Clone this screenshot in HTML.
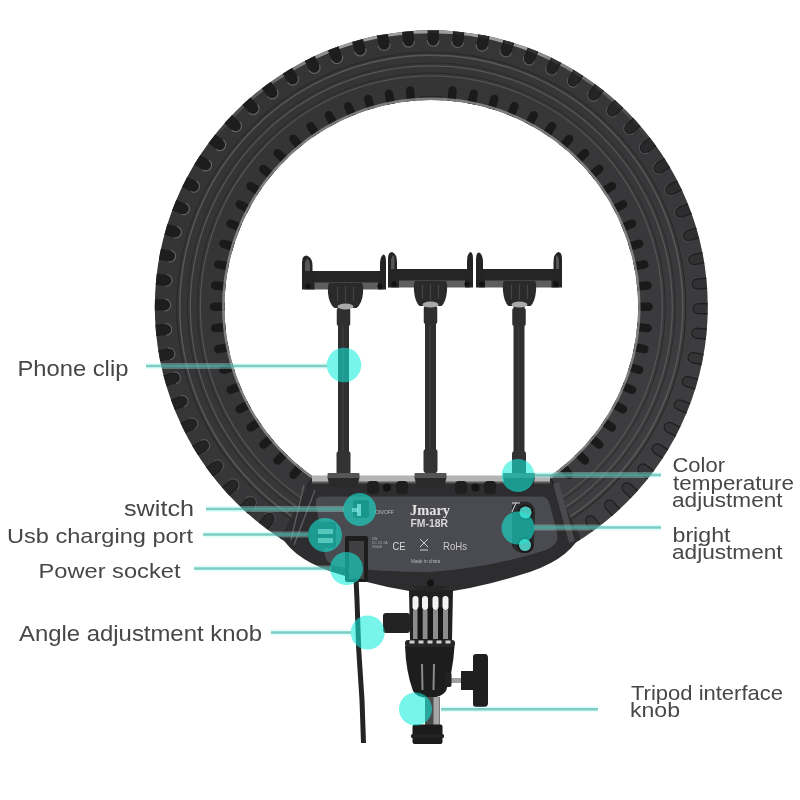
<!DOCTYPE html><html><head><meta charset="utf-8"><style>html,body{margin:0;padding:0;background:#fff;width:800px;height:800px;overflow:hidden}svg{display:block;filter:blur(0.45px)}</style></head><body>
<svg width="800" height="800" viewBox="0 0 800 800" style="font-family:'Liberation Sans',sans-serif">
<defs><clipPath id="ringclip"><path fill-rule="evenodd" clip-rule="evenodd" d="M 154.8,306.8 a 276.5,276.5 0 1,0 553.0,0 a 276.5,276.5 0 1,0 -553.0,0 Z M 224.5,306.8 a 206.8,206.8 0 1,0 413.6,0 a 206.8,206.8 0 1,0 -413.6,0 Z"/></clipPath><linearGradient id="ringg" x1="0" y1="0" x2="1" y2="1"><stop offset="0" stop-color="#333334"/><stop offset="0.6" stop-color="#38383a"/><stop offset="1" stop-color="#424244"/></linearGradient></defs>
<rect width="800" height="800" fill="#fff"/>
<path fill-rule="evenodd" fill="url(#ringg)" d="M 154.8,306.8 a 276.5,276.5 0 1,0 553.0,0 a 276.5,276.5 0 1,0 -553.0,0 Z M 224.5,306.8 a 206.8,206.8 0 1,0 413.6,0 a 206.8,206.8 0 1,0 -413.6,0 Z"/>
<g clip-path="url(#ringclip)">
<circle cx="431.3" cy="306.8" r="254.5" fill="none" stroke="#2a2a2b" stroke-width="1.2"/>
<circle cx="431.3" cy="306.8" r="251.5" fill="none" stroke="#59595a" stroke-width="1.4"/>
<circle cx="431.3" cy="306.8" r="244" fill="none" stroke="#2b2b2c" stroke-width="1.0"/>
<circle cx="431.3" cy="306.8" r="241" fill="none" stroke="#565657" stroke-width="1.3"/>
<circle cx="431.3" cy="306.8" r="234" fill="none" stroke="#2b2b2c" stroke-width="1.0"/>
<circle cx="431.3" cy="306.8" r="231" fill="none" stroke="#535354" stroke-width="1.3"/>
<linearGradient id="rimg" x1="0" y1="0" x2="1" y2="0"><stop offset="0" stop-color="#aaa" stop-opacity="0"/><stop offset="0.3" stop-color="#aaa" stop-opacity="0.9"/><stop offset="0.7" stop-color="#aaa" stop-opacity="0.9"/><stop offset="1" stop-color="#aaa" stop-opacity="0"/></linearGradient>
<path fill="none" stroke="url(#rimg)" stroke-width="3.2" d="M 206.0,149.0 A 275.1,275.1 0 0,1 656.6,149.0"/>
<g transform="translate(431.3,306.8)"><g transform="rotate(0.40)"><path d="M -5,-279.5 L -5,-266.5 A 5,5 0 0,0 5,-266.5 L 5,-279.5 Z" fill="#1d1d1e" fill-opacity="0.95" stroke="#1e1e1f" stroke-width="1.3"/><path d="M -5.9,-266.5 A 5.9,5.9 0 0,0 5.9,-266.5" fill="none" stroke="#666667" stroke-opacity="0.95" stroke-width="1.1"/></g><g transform="rotate(5.69)"><path d="M -5,-279.5 L -5,-266.5 A 5,5 0 0,0 5,-266.5 L 5,-279.5 Z" fill="#1d1d1e" fill-opacity="0.92" stroke="#1e1e1f" stroke-width="1.3"/><path d="M -5.9,-266.5 A 5.9,5.9 0 0,0 5.9,-266.5" fill="none" stroke="#666667" stroke-opacity="0.92" stroke-width="1.1"/></g><g transform="rotate(10.99)"><path d="M -5,-279.5 L -5,-266.5 A 5,5 0 0,0 5,-266.5 L 5,-279.5 Z" fill="#1d1d1e" fill-opacity="0.88" stroke="#1e1e1f" stroke-width="1.3"/><path d="M -5.9,-266.5 A 5.9,5.9 0 0,0 5.9,-266.5" fill="none" stroke="#666667" stroke-opacity="0.88" stroke-width="1.1"/></g><g transform="rotate(16.28)"><path d="M -5,-279.5 L -5,-266.5 A 5,5 0 0,0 5,-266.5 L 5,-279.5 Z" fill="#1d1d1e" fill-opacity="0.84" stroke="#1e1e1f" stroke-width="1.3"/><path d="M -5.9,-266.5 A 5.9,5.9 0 0,0 5.9,-266.5" fill="none" stroke="#666667" stroke-opacity="0.84" stroke-width="1.1"/></g><g transform="rotate(21.58)"><path d="M -5,-279.5 L -5,-266.5 A 5,5 0 0,0 5,-266.5 L 5,-279.5 Z" fill="#1d1d1e" fill-opacity="0.80" stroke="#1e1e1f" stroke-width="1.3"/><path d="M -5.9,-266.5 A 5.9,5.9 0 0,0 5.9,-266.5" fill="none" stroke="#666667" stroke-opacity="0.80" stroke-width="1.1"/></g><g transform="rotate(26.87)"><path d="M -5,-279.5 L -5,-266.5 A 5,5 0 0,0 5,-266.5 L 5,-279.5 Z" fill="#1d1d1e" fill-opacity="0.76" stroke="#1e1e1f" stroke-width="1.3"/><path d="M -5.9,-266.5 A 5.9,5.9 0 0,0 5.9,-266.5" fill="none" stroke="#666667" stroke-opacity="0.76" stroke-width="1.1"/></g><g transform="rotate(32.16)"><path d="M -5,-279.5 L -5,-266.5 A 5,5 0 0,0 5,-266.5 L 5,-279.5 Z" fill="#1d1d1e" fill-opacity="0.71" stroke="#1e1e1f" stroke-width="1.3"/><path d="M -5.9,-266.5 A 5.9,5.9 0 0,0 5.9,-266.5" fill="none" stroke="#666667" stroke-opacity="0.71" stroke-width="1.1"/></g><g transform="rotate(37.46)"><path d="M -5,-279.5 L -5,-266.5 A 5,5 0 0,0 5,-266.5 L 5,-279.5 Z" fill="#1d1d1e" fill-opacity="0.67" stroke="#1e1e1f" stroke-width="1.3"/><path d="M -5.9,-266.5 A 5.9,5.9 0 0,0 5.9,-266.5" fill="none" stroke="#666667" stroke-opacity="0.67" stroke-width="1.1"/></g><g transform="rotate(42.75)"><path d="M -5,-279.5 L -5,-266.5 A 5,5 0 0,0 5,-266.5 L 5,-279.5 Z" fill="#1d1d1e" fill-opacity="0.62" stroke="#1e1e1f" stroke-width="1.3"/><path d="M -5.9,-266.5 A 5.9,5.9 0 0,0 5.9,-266.5" fill="none" stroke="#666667" stroke-opacity="0.62" stroke-width="1.1"/></g><g transform="rotate(48.05)"><path d="M -5,-279.5 L -5,-266.5 A 5,5 0 0,0 5,-266.5 L 5,-279.5 Z" fill="#1d1d1e" fill-opacity="0.57" stroke="#1e1e1f" stroke-width="1.3"/><path d="M -5.9,-266.5 A 5.9,5.9 0 0,0 5.9,-266.5" fill="none" stroke="#666667" stroke-opacity="0.57" stroke-width="1.1"/></g><g transform="rotate(53.34)"><path d="M -5,-279.5 L -5,-266.5 A 5,5 0 0,0 5,-266.5 L 5,-279.5 Z" fill="#1d1d1e" fill-opacity="0.53" stroke="#1e1e1f" stroke-width="1.3"/><path d="M -5.9,-266.5 A 5.9,5.9 0 0,0 5.9,-266.5" fill="none" stroke="#666667" stroke-opacity="0.53" stroke-width="1.1"/></g><g transform="rotate(58.64)"><path d="M -5,-279.5 L -5,-266.5 A 5,5 0 0,0 5,-266.5 L 5,-279.5 Z" fill="#1d1d1e" fill-opacity="0.48" stroke="#1e1e1f" stroke-width="1.3"/><path d="M -5.9,-266.5 A 5.9,5.9 0 0,0 5.9,-266.5" fill="none" stroke="#666667" stroke-opacity="0.48" stroke-width="1.1"/></g><g transform="rotate(63.93)"><path d="M -5,-279.5 L -5,-266.5 A 5,5 0 0,0 5,-266.5 L 5,-279.5 Z" fill="#1d1d1e" fill-opacity="0.44" stroke="#1e1e1f" stroke-width="1.3"/><path d="M -5.9,-266.5 A 5.9,5.9 0 0,0 5.9,-266.5" fill="none" stroke="#666667" stroke-opacity="0.44" stroke-width="1.1"/></g><g transform="rotate(69.22)"><path d="M -5,-279.5 L -5,-266.5 A 5,5 0 0,0 5,-266.5 L 5,-279.5 Z" fill="#1d1d1e" fill-opacity="0.39" stroke="#1e1e1f" stroke-width="1.3"/><path d="M -5.9,-266.5 A 5.9,5.9 0 0,0 5.9,-266.5" fill="none" stroke="#666667" stroke-opacity="0.39" stroke-width="1.1"/></g><g transform="rotate(74.52)"><path d="M -5,-279.5 L -5,-266.5 A 5,5 0 0,0 5,-266.5 L 5,-279.5 Z" fill="#1d1d1e" fill-opacity="0.35" stroke="#1e1e1f" stroke-width="1.3"/><path d="M -5.9,-266.5 A 5.9,5.9 0 0,0 5.9,-266.5" fill="none" stroke="#666667" stroke-opacity="0.35" stroke-width="1.1"/></g><g transform="rotate(79.81)"><path d="M -5,-279.5 L -5,-266.5 A 5,5 0 0,0 5,-266.5 L 5,-279.5 Z" fill="#1d1d1e" fill-opacity="0.31" stroke="#1e1e1f" stroke-width="1.3"/><path d="M -5.9,-266.5 A 5.9,5.9 0 0,0 5.9,-266.5" fill="none" stroke="#666667" stroke-opacity="0.31" stroke-width="1.1"/></g><g transform="rotate(85.11)"><path d="M -5,-279.5 L -5,-266.5 A 5,5 0 0,0 5,-266.5 L 5,-279.5 Z" fill="#1d1d1e" fill-opacity="0.28" stroke="#1e1e1f" stroke-width="1.3"/><path d="M -5.9,-266.5 A 5.9,5.9 0 0,0 5.9,-266.5" fill="none" stroke="#666667" stroke-opacity="0.28" stroke-width="1.1"/></g><g transform="rotate(90.40)"><path d="M -5,-279.5 L -5,-266.5 A 5,5 0 0,0 5,-266.5 L 5,-279.5 Z" fill="#1d1d1e" fill-opacity="0.25" stroke="#1e1e1f" stroke-width="1.3"/><path d="M -5.9,-266.5 A 5.9,5.9 0 0,0 5.9,-266.5" fill="none" stroke="#666667" stroke-opacity="0.24" stroke-width="1.1"/></g><g transform="rotate(95.69)"><path d="M -5,-279.5 L -5,-266.5 A 5,5 0 0,0 5,-266.5 L 5,-279.5 Z" fill="#1d1d1e" fill-opacity="0.25" stroke="#1e1e1f" stroke-width="1.3"/><path d="M -5.9,-266.5 A 5.9,5.9 0 0,0 5.9,-266.5" fill="none" stroke="#666667" stroke-opacity="0.21" stroke-width="1.1"/></g><g transform="rotate(100.99)"><path d="M -5,-279.5 L -5,-266.5 A 5,5 0 0,0 5,-266.5 L 5,-279.5 Z" fill="#1d1d1e" fill-opacity="0.25" stroke="#1e1e1f" stroke-width="1.3"/><path d="M -5.9,-266.5 A 5.9,5.9 0 0,0 5.9,-266.5" fill="none" stroke="#666667" stroke-opacity="0.19" stroke-width="1.1"/></g><g transform="rotate(106.28)"><path d="M -5,-279.5 L -5,-266.5 A 5,5 0 0,0 5,-266.5 L 5,-279.5 Z" fill="#1d1d1e" fill-opacity="0.25" stroke="#1e1e1f" stroke-width="1.3"/><path d="M -5.9,-266.5 A 5.9,5.9 0 0,0 5.9,-266.5" fill="none" stroke="#666667" stroke-opacity="0.16" stroke-width="1.1"/></g><g transform="rotate(111.58)"><path d="M -5,-279.5 L -5,-266.5 A 5,5 0 0,0 5,-266.5 L 5,-279.5 Z" fill="#1d1d1e" fill-opacity="0.25" stroke="#1e1e1f" stroke-width="1.3"/><path d="M -5.9,-266.5 A 5.9,5.9 0 0,0 5.9,-266.5" fill="none" stroke="#666667" stroke-opacity="0.15" stroke-width="1.1"/></g><g transform="rotate(116.87)"><path d="M -5,-279.5 L -5,-266.5 A 5,5 0 0,0 5,-266.5 L 5,-279.5 Z" fill="#1d1d1e" fill-opacity="0.25" stroke="#1e1e1f" stroke-width="1.3"/><path d="M -5.9,-266.5 A 5.9,5.9 0 0,0 5.9,-266.5" fill="none" stroke="#666667" stroke-opacity="0.15" stroke-width="1.1"/></g><g transform="rotate(122.16)"><path d="M -5,-279.5 L -5,-266.5 A 5,5 0 0,0 5,-266.5 L 5,-279.5 Z" fill="#1d1d1e" fill-opacity="0.25" stroke="#1e1e1f" stroke-width="1.3"/><path d="M -5.9,-266.5 A 5.9,5.9 0 0,0 5.9,-266.5" fill="none" stroke="#666667" stroke-opacity="0.15" stroke-width="1.1"/></g><g transform="rotate(127.46)"><path d="M -5,-279.5 L -5,-266.5 A 5,5 0 0,0 5,-266.5 L 5,-279.5 Z" fill="#1d1d1e" fill-opacity="0.25" stroke="#1e1e1f" stroke-width="1.3"/><path d="M -5.9,-266.5 A 5.9,5.9 0 0,0 5.9,-266.5" fill="none" stroke="#666667" stroke-opacity="0.15" stroke-width="1.1"/></g><g transform="rotate(132.75)"><path d="M -5,-279.5 L -5,-266.5 A 5,5 0 0,0 5,-266.5 L 5,-279.5 Z" fill="#1d1d1e" fill-opacity="0.25" stroke="#1e1e1f" stroke-width="1.3"/><path d="M -5.9,-266.5 A 5.9,5.9 0 0,0 5.9,-266.5" fill="none" stroke="#666667" stroke-opacity="0.15" stroke-width="1.1"/></g><g transform="rotate(138.05)"><path d="M -5,-279.5 L -5,-266.5 A 5,5 0 0,0 5,-266.5 L 5,-279.5 Z" fill="#1d1d1e" fill-opacity="0.25" stroke="#1e1e1f" stroke-width="1.3"/><path d="M -5.9,-266.5 A 5.9,5.9 0 0,0 5.9,-266.5" fill="none" stroke="#666667" stroke-opacity="0.15" stroke-width="1.1"/></g><g transform="rotate(143.34)"><path d="M -5,-279.5 L -5,-266.5 A 5,5 0 0,0 5,-266.5 L 5,-279.5 Z" fill="#1d1d1e" fill-opacity="0.25" stroke="#1e1e1f" stroke-width="1.3"/><path d="M -5.9,-266.5 A 5.9,5.9 0 0,0 5.9,-266.5" fill="none" stroke="#666667" stroke-opacity="0.15" stroke-width="1.1"/></g><g transform="rotate(148.64)"><path d="M -5,-279.5 L -5,-266.5 A 5,5 0 0,0 5,-266.5 L 5,-279.5 Z" fill="#1d1d1e" fill-opacity="0.25" stroke="#1e1e1f" stroke-width="1.3"/><path d="M -5.9,-266.5 A 5.9,5.9 0 0,0 5.9,-266.5" fill="none" stroke="#666667" stroke-opacity="0.15" stroke-width="1.1"/></g><g transform="rotate(153.93)"><path d="M -5,-279.5 L -5,-266.5 A 5,5 0 0,0 5,-266.5 L 5,-279.5 Z" fill="#1d1d1e" fill-opacity="0.25" stroke="#1e1e1f" stroke-width="1.3"/><path d="M -5.9,-266.5 A 5.9,5.9 0 0,0 5.9,-266.5" fill="none" stroke="#666667" stroke-opacity="0.15" stroke-width="1.1"/></g><g transform="rotate(159.22)"><path d="M -5,-279.5 L -5,-266.5 A 5,5 0 0,0 5,-266.5 L 5,-279.5 Z" fill="#1d1d1e" fill-opacity="0.25" stroke="#1e1e1f" stroke-width="1.3"/><path d="M -5.9,-266.5 A 5.9,5.9 0 0,0 5.9,-266.5" fill="none" stroke="#666667" stroke-opacity="0.15" stroke-width="1.1"/></g><g transform="rotate(164.52)"><path d="M -5,-279.5 L -5,-266.5 A 5,5 0 0,0 5,-266.5 L 5,-279.5 Z" fill="#1d1d1e" fill-opacity="0.25" stroke="#1e1e1f" stroke-width="1.3"/><path d="M -5.9,-266.5 A 5.9,5.9 0 0,0 5.9,-266.5" fill="none" stroke="#666667" stroke-opacity="0.16" stroke-width="1.1"/></g><g transform="rotate(169.81)"><path d="M -5,-279.5 L -5,-266.5 A 5,5 0 0,0 5,-266.5 L 5,-279.5 Z" fill="#1d1d1e" fill-opacity="0.25" stroke="#1e1e1f" stroke-width="1.3"/><path d="M -5.9,-266.5 A 5.9,5.9 0 0,0 5.9,-266.5" fill="none" stroke="#666667" stroke-opacity="0.19" stroke-width="1.1"/></g><g transform="rotate(175.11)"><path d="M -5,-279.5 L -5,-266.5 A 5,5 0 0,0 5,-266.5 L 5,-279.5 Z" fill="#1d1d1e" fill-opacity="0.25" stroke="#1e1e1f" stroke-width="1.3"/><path d="M -5.9,-266.5 A 5.9,5.9 0 0,0 5.9,-266.5" fill="none" stroke="#666667" stroke-opacity="0.22" stroke-width="1.1"/></g><g transform="rotate(180.40)"><path d="M -5,-279.5 L -5,-266.5 A 5,5 0 0,0 5,-266.5 L 5,-279.5 Z" fill="#1d1d1e" fill-opacity="0.25" stroke="#1e1e1f" stroke-width="1.3"/><path d="M -5.9,-266.5 A 5.9,5.9 0 0,0 5.9,-266.5" fill="none" stroke="#666667" stroke-opacity="0.25" stroke-width="1.1"/></g><g transform="rotate(185.69)"><path d="M -5,-279.5 L -5,-266.5 A 5,5 0 0,0 5,-266.5 L 5,-279.5 Z" fill="#1d1d1e" fill-opacity="0.28" stroke="#1e1e1f" stroke-width="1.3"/><path d="M -5.9,-266.5 A 5.9,5.9 0 0,0 5.9,-266.5" fill="none" stroke="#666667" stroke-opacity="0.28" stroke-width="1.1"/></g><g transform="rotate(190.99)"><path d="M -5,-279.5 L -5,-266.5 A 5,5 0 0,0 5,-266.5 L 5,-279.5 Z" fill="#1d1d1e" fill-opacity="0.32" stroke="#1e1e1f" stroke-width="1.3"/><path d="M -5.9,-266.5 A 5.9,5.9 0 0,0 5.9,-266.5" fill="none" stroke="#666667" stroke-opacity="0.32" stroke-width="1.1"/></g><g transform="rotate(196.28)"><path d="M -5,-279.5 L -5,-266.5 A 5,5 0 0,0 5,-266.5 L 5,-279.5 Z" fill="#1d1d1e" fill-opacity="0.36" stroke="#1e1e1f" stroke-width="1.3"/><path d="M -5.9,-266.5 A 5.9,5.9 0 0,0 5.9,-266.5" fill="none" stroke="#666667" stroke-opacity="0.36" stroke-width="1.1"/></g><g transform="rotate(201.58)"><path d="M -5,-279.5 L -5,-266.5 A 5,5 0 0,0 5,-266.5 L 5,-279.5 Z" fill="#1d1d1e" fill-opacity="0.40" stroke="#1e1e1f" stroke-width="1.3"/><path d="M -5.9,-266.5 A 5.9,5.9 0 0,0 5.9,-266.5" fill="none" stroke="#666667" stroke-opacity="0.40" stroke-width="1.1"/></g><g transform="rotate(206.87)"><path d="M -5,-279.5 L -5,-266.5 A 5,5 0 0,0 5,-266.5 L 5,-279.5 Z" fill="#1d1d1e" fill-opacity="0.44" stroke="#1e1e1f" stroke-width="1.3"/><path d="M -5.9,-266.5 A 5.9,5.9 0 0,0 5.9,-266.5" fill="none" stroke="#666667" stroke-opacity="0.44" stroke-width="1.1"/></g><g transform="rotate(212.16)"><path d="M -5,-279.5 L -5,-266.5 A 5,5 0 0,0 5,-266.5 L 5,-279.5 Z" fill="#1d1d1e" fill-opacity="0.49" stroke="#1e1e1f" stroke-width="1.3"/><path d="M -5.9,-266.5 A 5.9,5.9 0 0,0 5.9,-266.5" fill="none" stroke="#666667" stroke-opacity="0.49" stroke-width="1.1"/></g><g transform="rotate(217.46)"><path d="M -5,-279.5 L -5,-266.5 A 5,5 0 0,0 5,-266.5 L 5,-279.5 Z" fill="#1d1d1e" fill-opacity="0.53" stroke="#1e1e1f" stroke-width="1.3"/><path d="M -5.9,-266.5 A 5.9,5.9 0 0,0 5.9,-266.5" fill="none" stroke="#666667" stroke-opacity="0.53" stroke-width="1.1"/></g><g transform="rotate(222.75)"><path d="M -5,-279.5 L -5,-266.5 A 5,5 0 0,0 5,-266.5 L 5,-279.5 Z" fill="#1d1d1e" fill-opacity="0.58" stroke="#1e1e1f" stroke-width="1.3"/><path d="M -5.9,-266.5 A 5.9,5.9 0 0,0 5.9,-266.5" fill="none" stroke="#666667" stroke-opacity="0.58" stroke-width="1.1"/></g><g transform="rotate(228.05)"><path d="M -5,-279.5 L -5,-266.5 A 5,5 0 0,0 5,-266.5 L 5,-279.5 Z" fill="#1d1d1e" fill-opacity="0.63" stroke="#1e1e1f" stroke-width="1.3"/><path d="M -5.9,-266.5 A 5.9,5.9 0 0,0 5.9,-266.5" fill="none" stroke="#666667" stroke-opacity="0.63" stroke-width="1.1"/></g><g transform="rotate(233.34)"><path d="M -5,-279.5 L -5,-266.5 A 5,5 0 0,0 5,-266.5 L 5,-279.5 Z" fill="#1d1d1e" fill-opacity="0.67" stroke="#1e1e1f" stroke-width="1.3"/><path d="M -5.9,-266.5 A 5.9,5.9 0 0,0 5.9,-266.5" fill="none" stroke="#666667" stroke-opacity="0.67" stroke-width="1.1"/></g><g transform="rotate(238.64)"><path d="M -5,-279.5 L -5,-266.5 A 5,5 0 0,0 5,-266.5 L 5,-279.5 Z" fill="#1d1d1e" fill-opacity="0.72" stroke="#1e1e1f" stroke-width="1.3"/><path d="M -5.9,-266.5 A 5.9,5.9 0 0,0 5.9,-266.5" fill="none" stroke="#666667" stroke-opacity="0.72" stroke-width="1.1"/></g><g transform="rotate(243.93)"><path d="M -5,-279.5 L -5,-266.5 A 5,5 0 0,0 5,-266.5 L 5,-279.5 Z" fill="#1d1d1e" fill-opacity="0.76" stroke="#1e1e1f" stroke-width="1.3"/><path d="M -5.9,-266.5 A 5.9,5.9 0 0,0 5.9,-266.5" fill="none" stroke="#666667" stroke-opacity="0.76" stroke-width="1.1"/></g><g transform="rotate(249.22)"><path d="M -5,-279.5 L -5,-266.5 A 5,5 0 0,0 5,-266.5 L 5,-279.5 Z" fill="#1d1d1e" fill-opacity="0.81" stroke="#1e1e1f" stroke-width="1.3"/><path d="M -5.9,-266.5 A 5.9,5.9 0 0,0 5.9,-266.5" fill="none" stroke="#666667" stroke-opacity="0.81" stroke-width="1.1"/></g><g transform="rotate(254.52)"><path d="M -5,-279.5 L -5,-266.5 A 5,5 0 0,0 5,-266.5 L 5,-279.5 Z" fill="#1d1d1e" fill-opacity="0.85" stroke="#1e1e1f" stroke-width="1.3"/><path d="M -5.9,-266.5 A 5.9,5.9 0 0,0 5.9,-266.5" fill="none" stroke="#666667" stroke-opacity="0.85" stroke-width="1.1"/></g><g transform="rotate(259.81)"><path d="M -5,-279.5 L -5,-266.5 A 5,5 0 0,0 5,-266.5 L 5,-279.5 Z" fill="#1d1d1e" fill-opacity="0.89" stroke="#1e1e1f" stroke-width="1.3"/><path d="M -5.9,-266.5 A 5.9,5.9 0 0,0 5.9,-266.5" fill="none" stroke="#666667" stroke-opacity="0.89" stroke-width="1.1"/></g><g transform="rotate(265.11)"><path d="M -5,-279.5 L -5,-266.5 A 5,5 0 0,0 5,-266.5 L 5,-279.5 Z" fill="#1d1d1e" fill-opacity="0.92" stroke="#1e1e1f" stroke-width="1.3"/><path d="M -5.9,-266.5 A 5.9,5.9 0 0,0 5.9,-266.5" fill="none" stroke="#666667" stroke-opacity="0.92" stroke-width="1.1"/></g><g transform="rotate(270.40)"><path d="M -5,-279.5 L -5,-266.5 A 5,5 0 0,0 5,-266.5 L 5,-279.5 Z" fill="#1d1d1e" fill-opacity="0.96" stroke="#1e1e1f" stroke-width="1.3"/><path d="M -5.9,-266.5 A 5.9,5.9 0 0,0 5.9,-266.5" fill="none" stroke="#666667" stroke-opacity="0.96" stroke-width="1.1"/></g><g transform="rotate(275.69)"><path d="M -5,-279.5 L -5,-266.5 A 5,5 0 0,0 5,-266.5 L 5,-279.5 Z" fill="#1d1d1e" fill-opacity="0.99" stroke="#1e1e1f" stroke-width="1.3"/><path d="M -5.9,-266.5 A 5.9,5.9 0 0,0 5.9,-266.5" fill="none" stroke="#666667" stroke-opacity="0.99" stroke-width="1.1"/></g><g transform="rotate(280.99)"><path d="M -5,-279.5 L -5,-266.5 A 5,5 0 0,0 5,-266.5 L 5,-279.5 Z" fill="#1d1d1e" fill-opacity="1.00" stroke="#1e1e1f" stroke-width="1.3"/><path d="M -5.9,-266.5 A 5.9,5.9 0 0,0 5.9,-266.5" fill="none" stroke="#666667" stroke-opacity="1.00" stroke-width="1.1"/></g><g transform="rotate(286.28)"><path d="M -5,-279.5 L -5,-266.5 A 5,5 0 0,0 5,-266.5 L 5,-279.5 Z" fill="#1d1d1e" fill-opacity="1.00" stroke="#1e1e1f" stroke-width="1.3"/><path d="M -5.9,-266.5 A 5.9,5.9 0 0,0 5.9,-266.5" fill="none" stroke="#666667" stroke-opacity="1.00" stroke-width="1.1"/></g><g transform="rotate(291.58)"><path d="M -5,-279.5 L -5,-266.5 A 5,5 0 0,0 5,-266.5 L 5,-279.5 Z" fill="#1d1d1e" fill-opacity="1.00" stroke="#1e1e1f" stroke-width="1.3"/><path d="M -5.9,-266.5 A 5.9,5.9 0 0,0 5.9,-266.5" fill="none" stroke="#666667" stroke-opacity="1.00" stroke-width="1.1"/></g><g transform="rotate(296.87)"><path d="M -5,-279.5 L -5,-266.5 A 5,5 0 0,0 5,-266.5 L 5,-279.5 Z" fill="#1d1d1e" fill-opacity="1.00" stroke="#1e1e1f" stroke-width="1.3"/><path d="M -5.9,-266.5 A 5.9,5.9 0 0,0 5.9,-266.5" fill="none" stroke="#666667" stroke-opacity="1.00" stroke-width="1.1"/></g><g transform="rotate(302.16)"><path d="M -5,-279.5 L -5,-266.5 A 5,5 0 0,0 5,-266.5 L 5,-279.5 Z" fill="#1d1d1e" fill-opacity="1.00" stroke="#1e1e1f" stroke-width="1.3"/><path d="M -5.9,-266.5 A 5.9,5.9 0 0,0 5.9,-266.5" fill="none" stroke="#666667" stroke-opacity="1.00" stroke-width="1.1"/></g><g transform="rotate(307.46)"><path d="M -5,-279.5 L -5,-266.5 A 5,5 0 0,0 5,-266.5 L 5,-279.5 Z" fill="#1d1d1e" fill-opacity="1.00" stroke="#1e1e1f" stroke-width="1.3"/><path d="M -5.9,-266.5 A 5.9,5.9 0 0,0 5.9,-266.5" fill="none" stroke="#666667" stroke-opacity="1.00" stroke-width="1.1"/></g><g transform="rotate(312.75)"><path d="M -5,-279.5 L -5,-266.5 A 5,5 0 0,0 5,-266.5 L 5,-279.5 Z" fill="#1d1d1e" fill-opacity="1.00" stroke="#1e1e1f" stroke-width="1.3"/><path d="M -5.9,-266.5 A 5.9,5.9 0 0,0 5.9,-266.5" fill="none" stroke="#666667" stroke-opacity="1.00" stroke-width="1.1"/></g><g transform="rotate(318.05)"><path d="M -5,-279.5 L -5,-266.5 A 5,5 0 0,0 5,-266.5 L 5,-279.5 Z" fill="#1d1d1e" fill-opacity="1.00" stroke="#1e1e1f" stroke-width="1.3"/><path d="M -5.9,-266.5 A 5.9,5.9 0 0,0 5.9,-266.5" fill="none" stroke="#666667" stroke-opacity="1.00" stroke-width="1.1"/></g><g transform="rotate(323.34)"><path d="M -5,-279.5 L -5,-266.5 A 5,5 0 0,0 5,-266.5 L 5,-279.5 Z" fill="#1d1d1e" fill-opacity="1.00" stroke="#1e1e1f" stroke-width="1.3"/><path d="M -5.9,-266.5 A 5.9,5.9 0 0,0 5.9,-266.5" fill="none" stroke="#666667" stroke-opacity="1.00" stroke-width="1.1"/></g><g transform="rotate(328.64)"><path d="M -5,-279.5 L -5,-266.5 A 5,5 0 0,0 5,-266.5 L 5,-279.5 Z" fill="#1d1d1e" fill-opacity="1.00" stroke="#1e1e1f" stroke-width="1.3"/><path d="M -5.9,-266.5 A 5.9,5.9 0 0,0 5.9,-266.5" fill="none" stroke="#666667" stroke-opacity="1.00" stroke-width="1.1"/></g><g transform="rotate(333.93)"><path d="M -5,-279.5 L -5,-266.5 A 5,5 0 0,0 5,-266.5 L 5,-279.5 Z" fill="#1d1d1e" fill-opacity="1.00" stroke="#1e1e1f" stroke-width="1.3"/><path d="M -5.9,-266.5 A 5.9,5.9 0 0,0 5.9,-266.5" fill="none" stroke="#666667" stroke-opacity="1.00" stroke-width="1.1"/></g><g transform="rotate(339.22)"><path d="M -5,-279.5 L -5,-266.5 A 5,5 0 0,0 5,-266.5 L 5,-279.5 Z" fill="#1d1d1e" fill-opacity="1.00" stroke="#1e1e1f" stroke-width="1.3"/><path d="M -5.9,-266.5 A 5.9,5.9 0 0,0 5.9,-266.5" fill="none" stroke="#666667" stroke-opacity="1.00" stroke-width="1.1"/></g><g transform="rotate(344.52)"><path d="M -5,-279.5 L -5,-266.5 A 5,5 0 0,0 5,-266.5 L 5,-279.5 Z" fill="#1d1d1e" fill-opacity="1.00" stroke="#1e1e1f" stroke-width="1.3"/><path d="M -5.9,-266.5 A 5.9,5.9 0 0,0 5.9,-266.5" fill="none" stroke="#666667" stroke-opacity="1.00" stroke-width="1.1"/></g><g transform="rotate(349.81)"><path d="M -5,-279.5 L -5,-266.5 A 5,5 0 0,0 5,-266.5 L 5,-279.5 Z" fill="#1d1d1e" fill-opacity="1.00" stroke="#1e1e1f" stroke-width="1.3"/><path d="M -5.9,-266.5 A 5.9,5.9 0 0,0 5.9,-266.5" fill="none" stroke="#666667" stroke-opacity="1.00" stroke-width="1.1"/></g><g transform="rotate(355.11)"><path d="M -5,-279.5 L -5,-266.5 A 5,5 0 0,0 5,-266.5 L 5,-279.5 Z" fill="#1d1d1e" fill-opacity="0.98" stroke="#1e1e1f" stroke-width="1.3"/><path d="M -5.9,-266.5 A 5.9,5.9 0 0,0 5.9,-266.5" fill="none" stroke="#666667" stroke-opacity="0.98" stroke-width="1.1"/></g></g>
<g transform="translate(431.3,306.8)"><path transform="rotate(5.62)" d="M -4.2,-203.8 L -4.2,-217.3 A 4.2,4.2 0 0,1 4.2,-217.3 L 4.2,-203.8 Z" fill="#1a1a1b" /><path transform="rotate(11.25)" d="M -4.2,-203.8 L -4.2,-217.3 A 4.2,4.2 0 0,1 4.2,-217.3 L 4.2,-203.8 Z" fill="#1a1a1b" /><path transform="rotate(16.88)" d="M -4.2,-203.8 L -4.2,-217.3 A 4.2,4.2 0 0,1 4.2,-217.3 L 4.2,-203.8 Z" fill="#1a1a1b" /><path transform="rotate(22.50)" d="M -4.2,-203.8 L -4.2,-217.3 A 4.2,4.2 0 0,1 4.2,-217.3 L 4.2,-203.8 Z" fill="#1a1a1b" /><path transform="rotate(28.12)" d="M -4.2,-203.8 L -4.2,-217.3 A 4.2,4.2 0 0,1 4.2,-217.3 L 4.2,-203.8 Z" fill="#1a1a1b" /><path transform="rotate(33.75)" d="M -4.2,-203.8 L -4.2,-217.3 A 4.2,4.2 0 0,1 4.2,-217.3 L 4.2,-203.8 Z" fill="#1a1a1b" /><path transform="rotate(39.38)" d="M -4.2,-203.8 L -4.2,-217.3 A 4.2,4.2 0 0,1 4.2,-217.3 L 4.2,-203.8 Z" fill="#1a1a1b" /><path transform="rotate(45.00)" d="M -4.2,-203.8 L -4.2,-217.3 A 4.2,4.2 0 0,1 4.2,-217.3 L 4.2,-203.8 Z" fill="#1a1a1b" /><path transform="rotate(50.62)" d="M -4.2,-203.8 L -4.2,-217.3 A 4.2,4.2 0 0,1 4.2,-217.3 L 4.2,-203.8 Z" fill="#1a1a1b" /><path transform="rotate(56.25)" d="M -4.2,-203.8 L -4.2,-217.3 A 4.2,4.2 0 0,1 4.2,-217.3 L 4.2,-203.8 Z" fill="#1a1a1b" /><path transform="rotate(61.88)" d="M -4.2,-203.8 L -4.2,-217.3 A 4.2,4.2 0 0,1 4.2,-217.3 L 4.2,-203.8 Z" fill="#1a1a1b" /><path transform="rotate(67.50)" d="M -4.2,-203.8 L -4.2,-217.3 A 4.2,4.2 0 0,1 4.2,-217.3 L 4.2,-203.8 Z" fill="#1a1a1b" /><path transform="rotate(73.12)" d="M -4.2,-203.8 L -4.2,-217.3 A 4.2,4.2 0 0,1 4.2,-217.3 L 4.2,-203.8 Z" fill="#1a1a1b" /><path transform="rotate(78.75)" d="M -4.2,-203.8 L -4.2,-217.3 A 4.2,4.2 0 0,1 4.2,-217.3 L 4.2,-203.8 Z" fill="#1a1a1b" /><path transform="rotate(84.38)" d="M -4.2,-203.8 L -4.2,-217.3 A 4.2,4.2 0 0,1 4.2,-217.3 L 4.2,-203.8 Z" fill="#1a1a1b" /><path transform="rotate(90.00)" d="M -4.2,-203.8 L -4.2,-217.3 A 4.2,4.2 0 0,1 4.2,-217.3 L 4.2,-203.8 Z" fill="#1a1a1b" /><path transform="rotate(95.62)" d="M -4.2,-203.8 L -4.2,-217.3 A 4.2,4.2 0 0,1 4.2,-217.3 L 4.2,-203.8 Z" fill="#1a1a1b" /><path transform="rotate(101.25)" d="M -4.2,-203.8 L -4.2,-217.3 A 4.2,4.2 0 0,1 4.2,-217.3 L 4.2,-203.8 Z" fill="#1a1a1b" /><path transform="rotate(106.88)" d="M -4.2,-203.8 L -4.2,-217.3 A 4.2,4.2 0 0,1 4.2,-217.3 L 4.2,-203.8 Z" fill="#1a1a1b" /><path transform="rotate(112.50)" d="M -4.2,-203.8 L -4.2,-217.3 A 4.2,4.2 0 0,1 4.2,-217.3 L 4.2,-203.8 Z" fill="#1a1a1b" /><path transform="rotate(118.12)" d="M -4.2,-203.8 L -4.2,-217.3 A 4.2,4.2 0 0,1 4.2,-217.3 L 4.2,-203.8 Z" fill="#1a1a1b" /><path transform="rotate(123.75)" d="M -4.2,-203.8 L -4.2,-217.3 A 4.2,4.2 0 0,1 4.2,-217.3 L 4.2,-203.8 Z" fill="#1a1a1b" /><path transform="rotate(129.38)" d="M -4.2,-203.8 L -4.2,-217.3 A 4.2,4.2 0 0,1 4.2,-217.3 L 4.2,-203.8 Z" fill="#1a1a1b" /><path transform="rotate(135.00)" d="M -4.2,-203.8 L -4.2,-217.3 A 4.2,4.2 0 0,1 4.2,-217.3 L 4.2,-203.8 Z" fill="#1a1a1b" /><path transform="rotate(140.62)" d="M -4.2,-203.8 L -4.2,-217.3 A 4.2,4.2 0 0,1 4.2,-217.3 L 4.2,-203.8 Z" fill="#1a1a1b" /><path transform="rotate(146.25)" d="M -4.2,-203.8 L -4.2,-217.3 A 4.2,4.2 0 0,1 4.2,-217.3 L 4.2,-203.8 Z" fill="#1a1a1b" /><path transform="rotate(151.88)" d="M -4.2,-203.8 L -4.2,-217.3 A 4.2,4.2 0 0,1 4.2,-217.3 L 4.2,-203.8 Z" fill="#1a1a1b" /><path transform="rotate(157.50)" d="M -4.2,-203.8 L -4.2,-217.3 A 4.2,4.2 0 0,1 4.2,-217.3 L 4.2,-203.8 Z" fill="#1a1a1b" /><path transform="rotate(163.12)" d="M -4.2,-203.8 L -4.2,-217.3 A 4.2,4.2 0 0,1 4.2,-217.3 L 4.2,-203.8 Z" fill="#1a1a1b" /><path transform="rotate(168.75)" d="M -4.2,-203.8 L -4.2,-217.3 A 4.2,4.2 0 0,1 4.2,-217.3 L 4.2,-203.8 Z" fill="#1a1a1b" /><path transform="rotate(174.38)" d="M -4.2,-203.8 L -4.2,-217.3 A 4.2,4.2 0 0,1 4.2,-217.3 L 4.2,-203.8 Z" fill="#1a1a1b" /><path transform="rotate(180.00)" d="M -4.2,-203.8 L -4.2,-217.3 A 4.2,4.2 0 0,1 4.2,-217.3 L 4.2,-203.8 Z" fill="#1a1a1b" /><path transform="rotate(185.62)" d="M -4.2,-203.8 L -4.2,-217.3 A 4.2,4.2 0 0,1 4.2,-217.3 L 4.2,-203.8 Z" fill="#1a1a1b" /><path transform="rotate(191.25)" d="M -4.2,-203.8 L -4.2,-217.3 A 4.2,4.2 0 0,1 4.2,-217.3 L 4.2,-203.8 Z" fill="#1a1a1b" /><path transform="rotate(196.88)" d="M -4.2,-203.8 L -4.2,-217.3 A 4.2,4.2 0 0,1 4.2,-217.3 L 4.2,-203.8 Z" fill="#1a1a1b" /><path transform="rotate(202.50)" d="M -4.2,-203.8 L -4.2,-217.3 A 4.2,4.2 0 0,1 4.2,-217.3 L 4.2,-203.8 Z" fill="#1a1a1b" /><path transform="rotate(208.12)" d="M -4.2,-203.8 L -4.2,-217.3 A 4.2,4.2 0 0,1 4.2,-217.3 L 4.2,-203.8 Z" fill="#1a1a1b" /><path transform="rotate(213.75)" d="M -4.2,-203.8 L -4.2,-217.3 A 4.2,4.2 0 0,1 4.2,-217.3 L 4.2,-203.8 Z" fill="#1a1a1b" /><path transform="rotate(219.38)" d="M -4.2,-203.8 L -4.2,-217.3 A 4.2,4.2 0 0,1 4.2,-217.3 L 4.2,-203.8 Z" fill="#1a1a1b" /><path transform="rotate(225.00)" d="M -4.2,-203.8 L -4.2,-217.3 A 4.2,4.2 0 0,1 4.2,-217.3 L 4.2,-203.8 Z" fill="#1a1a1b" /><path transform="rotate(230.62)" d="M -4.2,-203.8 L -4.2,-217.3 A 4.2,4.2 0 0,1 4.2,-217.3 L 4.2,-203.8 Z" fill="#1a1a1b" /><path transform="rotate(236.25)" d="M -4.2,-203.8 L -4.2,-217.3 A 4.2,4.2 0 0,1 4.2,-217.3 L 4.2,-203.8 Z" fill="#1a1a1b" /><path transform="rotate(241.88)" d="M -4.2,-203.8 L -4.2,-217.3 A 4.2,4.2 0 0,1 4.2,-217.3 L 4.2,-203.8 Z" fill="#1a1a1b" /><path transform="rotate(247.50)" d="M -4.2,-203.8 L -4.2,-217.3 A 4.2,4.2 0 0,1 4.2,-217.3 L 4.2,-203.8 Z" fill="#1a1a1b" /><path transform="rotate(253.12)" d="M -4.2,-203.8 L -4.2,-217.3 A 4.2,4.2 0 0,1 4.2,-217.3 L 4.2,-203.8 Z" fill="#1a1a1b" /><path transform="rotate(258.75)" d="M -4.2,-203.8 L -4.2,-217.3 A 4.2,4.2 0 0,1 4.2,-217.3 L 4.2,-203.8 Z" fill="#1a1a1b" /><path transform="rotate(264.38)" d="M -4.2,-203.8 L -4.2,-217.3 A 4.2,4.2 0 0,1 4.2,-217.3 L 4.2,-203.8 Z" fill="#1a1a1b" /><path transform="rotate(270.00)" d="M -4.2,-203.8 L -4.2,-217.3 A 4.2,4.2 0 0,1 4.2,-217.3 L 4.2,-203.8 Z" fill="#1a1a1b" /><path transform="rotate(275.62)" d="M -4.2,-203.8 L -4.2,-217.3 A 4.2,4.2 0 0,1 4.2,-217.3 L 4.2,-203.8 Z" fill="#1a1a1b" /><path transform="rotate(281.25)" d="M -4.2,-203.8 L -4.2,-217.3 A 4.2,4.2 0 0,1 4.2,-217.3 L 4.2,-203.8 Z" fill="#1a1a1b" /><path transform="rotate(286.88)" d="M -4.2,-203.8 L -4.2,-217.3 A 4.2,4.2 0 0,1 4.2,-217.3 L 4.2,-203.8 Z" fill="#1a1a1b" /><path transform="rotate(292.50)" d="M -4.2,-203.8 L -4.2,-217.3 A 4.2,4.2 0 0,1 4.2,-217.3 L 4.2,-203.8 Z" fill="#1a1a1b" /><path transform="rotate(298.12)" d="M -4.2,-203.8 L -4.2,-217.3 A 4.2,4.2 0 0,1 4.2,-217.3 L 4.2,-203.8 Z" fill="#1a1a1b" /><path transform="rotate(303.75)" d="M -4.2,-203.8 L -4.2,-217.3 A 4.2,4.2 0 0,1 4.2,-217.3 L 4.2,-203.8 Z" fill="#1a1a1b" /><path transform="rotate(309.38)" d="M -4.2,-203.8 L -4.2,-217.3 A 4.2,4.2 0 0,1 4.2,-217.3 L 4.2,-203.8 Z" fill="#1a1a1b" /><path transform="rotate(315.00)" d="M -4.2,-203.8 L -4.2,-217.3 A 4.2,4.2 0 0,1 4.2,-217.3 L 4.2,-203.8 Z" fill="#1a1a1b" /><path transform="rotate(320.62)" d="M -4.2,-203.8 L -4.2,-217.3 A 4.2,4.2 0 0,1 4.2,-217.3 L 4.2,-203.8 Z" fill="#1a1a1b" /><path transform="rotate(326.25)" d="M -4.2,-203.8 L -4.2,-217.3 A 4.2,4.2 0 0,1 4.2,-217.3 L 4.2,-203.8 Z" fill="#1a1a1b" /><path transform="rotate(331.88)" d="M -4.2,-203.8 L -4.2,-217.3 A 4.2,4.2 0 0,1 4.2,-217.3 L 4.2,-203.8 Z" fill="#1a1a1b" /><path transform="rotate(337.50)" d="M -4.2,-203.8 L -4.2,-217.3 A 4.2,4.2 0 0,1 4.2,-217.3 L 4.2,-203.8 Z" fill="#1a1a1b" /><path transform="rotate(343.12)" d="M -4.2,-203.8 L -4.2,-217.3 A 4.2,4.2 0 0,1 4.2,-217.3 L 4.2,-203.8 Z" fill="#1a1a1b" /><path transform="rotate(348.75)" d="M -4.2,-203.8 L -4.2,-217.3 A 4.2,4.2 0 0,1 4.2,-217.3 L 4.2,-203.8 Z" fill="#1a1a1b" /><path transform="rotate(354.38)" d="M -4.2,-203.8 L -4.2,-217.3 A 4.2,4.2 0 0,1 4.2,-217.3 L 4.2,-203.8 Z" fill="#1a1a1b" /></g>
<rect x="419.3" y="96.0" width="24" height="10" rx="2" fill="#29292a"/>
<circle cx="431.3" cy="306.8" r="208.0" fill="none" stroke="#9a9a9b" stroke-width="2.4" stroke-opacity="0.75"/>
</g>
<path fill="#2d2d2f" d="M 281,536 L 312,478 L 550,478 L 580,536 Q 566,562 520,575 Q 475,589 431,594 Q 387,589 342,575 Q 296,562 281,536 Z"/>
<path fill="none" stroke="#5f5f60" stroke-width="1.3" d="M 304,485 L 291,540 M 315,490 L 294,545"/>
<path fill="none" stroke="#4a4a4c" stroke-width="6" d="M 556,483 L 572,542"/>
<rect x="312" y="475.5" width="238" height="6.5" fill="#b4b4b4"/>
<rect x="312" y="481.5" width="238" height="2" fill="#5a5a5a"/>
<path fill="#4a4b50" d="M 321,496.5 L 541,496.5 Q 548,496.5 550,505 L 557,533 Q 560,544 546,550 Q 490,568 431,572 Q 380,572 340,567 Q 327,565 325,556 L 316,505 Q 315,496.5 321,496.5 Z"/>
<rect x="367" y="481" width="12" height="13" rx="4" fill="#1f1f20"/>
<rect x="396" y="481" width="12" height="13" rx="4" fill="#1f1f20"/>
<rect x="455" y="481" width="12" height="13" rx="4" fill="#1f1f20"/>
<rect x="484" y="481" width="12" height="13" rx="4" fill="#1f1f20"/>
<circle cx="387" cy="487.5" r="4" fill="#141414"/>
<circle cx="475.5" cy="487.5" r="4" fill="#141414"/>
<path fill="#2a2a2c" d="M 512,506 Q 518,500 528,502 Q 536,505 535,515 L 534,542 Q 535,552 527,553 Q 516,554 512,546 Z"/>
<circle cx="525.5" cy="512.5" r="8" fill="#1a1a1b"/><circle cx="525" cy="545" r="8" fill="#1a1a1b"/>
<circle cx="525.5" cy="512.5" r="6" fill="#8a8a8a"/><circle cx="525" cy="545" r="6" fill="#8a8a8a"/>
<path fill="none" stroke="#ddd" stroke-width="1" d="M 512,503 L 520,503 M 516,503 L 512,512"/>
<rect x="345" y="536" width="23" height="46" rx="2" fill="#1d1d1e"/><rect x="349" y="541" width="15" height="38" fill="#404043"/>
<rect x="353" y="500" width="16" height="18" rx="3" fill="#232325"/>
<rect x="316" y="522" width="20" height="26" rx="2" fill="#2a2a2c"/>
<text x="410" y="515" style="font-family:'Liberation Serif',serif;font-weight:bold" font-size="15" fill="#e6e6e6" textLength="40" lengthAdjust="spacingAndGlyphs">Jmary</text>
<text x="410.5" y="526.5" font-size="10.5" font-weight="bold" fill="#d8d8d8" textLength="37.5" lengthAdjust="spacingAndGlyphs">FM-18R</text>
<text x="443" y="550" font-size="11" fill="#c8c8c8" textLength="24" lengthAdjust="spacingAndGlyphs">RoHs</text>
<text x="392.5" y="550" font-size="11" fill="#d8d8d8" textLength="13" lengthAdjust="spacingAndGlyphs">CE</text>
<path fill="none" stroke="#cfcfcf" stroke-width="1" d="M 420,539 l 8,8 m 0,-8 l -8,8 M 420,550 h 8"/>
<text x="411" y="563" font-size="4.5" fill="#bbb" textLength="29" lengthAdjust="spacingAndGlyphs">Made in china</text>
<text x="372" y="540" font-size="3.5" fill="#aaa">5W</text><text x="372" y="544" font-size="3.5" fill="#aaa">DC 5V 2A</text><text x="372" y="548" font-size="3.5" fill="#aaa">5600K</text>
<text x="375" y="514" font-size="5" fill="#bbb">ON/OFF</text>
<rect x="338.0" y="305" width="11" height="172" fill="#2f2f30"/>
<rect x="336.75" y="308" width="13.5" height="18" rx="2" fill="#2f2f30"/>
<rect x="342.0" y="327" width="2" height="125" fill="#39393a"/>
<rect x="336.5" y="451" width="14" height="24" rx="3" fill="#333334"/>
<path fill="#2a2a2b" d="M 327.5,477 L 359.5,477 L 357.5,487 L 329.5,487 Z"/>
<rect x="327.5" y="473" width="32" height="5" rx="1" fill="#555"/>
<rect x="425.0" y="303" width="11" height="172" fill="#2f2f30"/>
<rect x="423.75" y="306" width="13.5" height="18" rx="2" fill="#2f2f30"/>
<rect x="429.0" y="325" width="2" height="125" fill="#39393a"/>
<rect x="423.5" y="449" width="14" height="24" rx="3" fill="#333334"/>
<path fill="#2a2a2b" d="M 414.5,477 L 446.5,477 L 444.5,487 L 416.5,487 Z"/>
<rect x="414.5" y="473" width="32" height="5" rx="1" fill="#555"/>
<rect x="513.5" y="305" width="11" height="172" fill="#2f2f30"/>
<rect x="512.25" y="308" width="13.5" height="18" rx="2" fill="#2f2f30"/>
<rect x="517.5" y="327" width="2" height="125" fill="#39393a"/>
<rect x="512" y="451" width="14" height="24" rx="3" fill="#333334"/>
<path fill="#2a2a2b" d="M 503,477 L 535,477 L 533,487 L 505,487 Z"/>
<rect x="503" y="473" width="32" height="5" rx="1" fill="#555"/>
<rect x="302" y="271" width="84" height="12" fill="#262627"/><rect x="305" y="282.5" width="78" height="7" fill="#5e5e5f"/><path fill="#242425" d="M 302,289.5 L 302,262.5 Q 302,255.5 306.725,255.5 Q 312.5,257.5 312.5,265.5 L 312.5,272 L 314.5,272 L 314.5,289.5 Z"/><path fill="#242425" d="M 386,289.5 L 386,261.5 Q 386,254.5 383.3,254.5 Q 380,256.5 380,264.5 L 380,272 L 378,272 L 378,289.5 Z"/><path fill="#555" d="M 305,271 L 305,263.5 Q 306,258.5 308,259.0 Q 310.0,260.5 310.0,266.5 L 310.0,271 Z"/><circle cx="308" cy="286" r="2.6" fill="#111"/><circle cx="380" cy="286" r="2.6" fill="#111"/><path fill="#2a2a2b" d="M 329,283 L 362,283 Q 363.5,285 363,293 Q 362,304 356.5,308 L 334.5,308 Q 329,304 328,293 Q 327.5,285 329,283 Z"/><path fill="none" stroke="#444" stroke-width="1.2" d="M 337.5,287 L 337.5,301 M 345.5,286 L 345.5,302 M 353.5,287 L 353.5,301"/><ellipse cx="345.5" cy="306.5" rx="8" ry="3" fill="#a9a9a9"/>
<rect x="388" y="269" width="85" height="12" fill="#262627"/><rect x="391" y="280.5" width="79" height="7" fill="#5e5e5f"/><path fill="#242425" d="M 388,287.5 L 388,259 Q 388,252 392.05,252 Q 397,254 397,262 L 397,270 L 399,270 L 399,287.5 Z"/><path fill="#242425" d="M 473,287.5 L 473,259 Q 473,252 470.3,252 Q 467,254 467,262 L 467,270 L 465,270 L 465,287.5 Z"/><path fill="#555" d="M 391,269 L 391,260 Q 392,255 394,255.5 Q 394.5,257 394.5,263 L 394.5,269 Z"/><circle cx="394" cy="284" r="2.6" fill="#111"/><circle cx="467" cy="284" r="2.6" fill="#111"/><path fill="#2a2a2b" d="M 415,281 L 446,281 Q 447.5,283 447,291 Q 446,302 441.5,306 L 419.5,306 Q 415,302 414,291 Q 413.5,283 415,281 Z"/><path fill="none" stroke="#444" stroke-width="1.2" d="M 422.5,285 L 422.5,299 M 430.5,284 L 430.5,300 M 438.5,285 L 438.5,299"/><ellipse cx="430.5" cy="304.5" rx="8" ry="3" fill="#a9a9a9"/>
<rect x="476" y="269" width="86" height="12" fill="#262627"/><rect x="479" y="280.5" width="80" height="7" fill="#5e5e5f"/><path fill="#242425" d="M 476,287.5 L 476,259.4 Q 476,252.4 479.15,252.4 Q 483,254.4 483,262.4 L 483,270 L 485,270 L 485,287.5 Z"/><path fill="#242425" d="M 562,287.5 L 562,259 Q 562,252 558.175,252 Q 553.5,254 553.5,262 L 553.5,270 L 551.5,270 L 551.5,287.5 Z"/><path fill="#555" d="M 559,269 L 559,260 Q 558,255 556,255.5 Q 556.0,257 556.0,263 L 556.0,269 Z"/><circle cx="482" cy="284" r="2.6" fill="#111"/><circle cx="556" cy="284" r="2.6" fill="#111"/><path fill="#2a2a2b" d="M 504,281 L 535,281 Q 536.5,283 536,291 Q 535,302 530.5,306 L 508.5,306 Q 504,302 503,291 Q 502.5,283 504,281 Z"/><path fill="none" stroke="#444" stroke-width="1.2" d="M 511.5,285 L 511.5,299 M 519.5,284 L 519.5,300 M 527.5,285 L 527.5,299"/><ellipse cx="519.5" cy="304.5" rx="8" ry="3" fill="#a9a9a9"/>
<path fill="#202021" d="M 409,590 L 453,590 L 452,640 L 410,640 Z"/>
<rect x="412.5" y="596" width="6" height="14" rx="3" fill="#f2f2f2"/>
<rect x="413.0" y="610" width="5" height="29" fill="#8c8c8c"/>
<rect x="422" y="596" width="6" height="14" rx="3" fill="#f2f2f2"/>
<rect x="422.5" y="610" width="5" height="29" fill="#8c8c8c"/>
<rect x="432.5" y="596" width="6" height="14" rx="3" fill="#f2f2f2"/>
<rect x="433.0" y="610" width="5" height="29" fill="#8c8c8c"/>
<rect x="442.5" y="596" width="6" height="14" rx="3" fill="#f2f2f2"/>
<rect x="443.0" y="610" width="5" height="29" fill="#8c8c8c"/>
<rect x="417.5" y="607" width="5" height="33" rx="2" fill="#161617"/>
<rect x="428.0" y="607" width="5" height="33" rx="2" fill="#161617"/>
<rect x="438.0" y="607" width="5" height="33" rx="2" fill="#161617"/>
<path fill="#262627" d="M 412,586 Q 431,598 450,586 Z"/>
<circle cx="430.5" cy="583" r="3.5" fill="#141414"/>
<rect x="383" y="613" width="27" height="20" rx="3" fill="#232324"/>
<path fill="#1d1d1e" d="M 405,646 L 454.5,646 Q 453,672 446,691 Q 441,698 429,698 Q 417,698 413,691 Q 406,672 405,646 Z"/>
<path fill="none" stroke="#8a8a8a" stroke-width="2" d="M 422,664 L 422.5,690 M 434,664 L 433.5,690"/>
<rect x="405" y="640" width="50" height="7" rx="3" fill="#262627"/>
<rect x="409.5" y="640.5" width="5" height="3" fill="#d0d0d0"/>
<rect x="418.5" y="640.5" width="5" height="3" fill="#d0d0d0"/>
<rect x="427.5" y="640.5" width="5" height="3" fill="#d0d0d0"/>
<rect x="436.5" y="640.5" width="5" height="3" fill="#d0d0d0"/>
<rect x="445.5" y="640.5" width="5" height="3" fill="#d0d0d0"/>
<rect x="450" y="678" width="12" height="5" fill="#a0a0a0"/>
<rect x="445" y="672" width="6.5" height="15" rx="2" fill="#222"/>
<path fill="#1f1f20" d="M 461,671 L 473,671 L 473,657 Q 473,654 476,654 L 485,654 Q 488,654 488,658 L 488,703 Q 488,707 484,707 L 476,707 Q 473,707 473,704 L 473,690 L 461,690 Z"/>
<rect x="425" y="697" width="15" height="29" fill="#4a4a4b"/><rect x="433.5" y="697" width="6" height="29" fill="#a5a5a5"/>
<rect x="412.5" y="724.5" width="30" height="19.5" rx="2" fill="#1b1b1c"/><rect x="411" y="734" width="33" height="4" rx="1.5" fill="#222"/>
<path fill="none" stroke="#242425" stroke-width="5" d="M 356,578 L 357,600 Q 358,650 362,700 L 363.5,743"/>
<line x1="146" y1="366" x2="327" y2="366" stroke="rgb(170,250,240)" stroke-opacity="0.35" stroke-width="6"/><line x1="146" y1="366" x2="327" y2="366" stroke="rgb(62,176,163)" stroke-opacity="0.62" stroke-width="2.6"/>
<line x1="206" y1="509" x2="344" y2="509" stroke="rgb(170,250,240)" stroke-opacity="0.35" stroke-width="6"/><line x1="206" y1="509" x2="344" y2="509" stroke="rgb(62,176,163)" stroke-opacity="0.62" stroke-width="2.6"/>
<line x1="203" y1="534.5" x2="308" y2="534.5" stroke="rgb(170,250,240)" stroke-opacity="0.35" stroke-width="6"/><line x1="203" y1="534.5" x2="308" y2="534.5" stroke="rgb(62,176,163)" stroke-opacity="0.62" stroke-width="2.6"/>
<line x1="194" y1="568.5" x2="331" y2="568.5" stroke="rgb(170,250,240)" stroke-opacity="0.35" stroke-width="6"/><line x1="194" y1="568.5" x2="331" y2="568.5" stroke="rgb(62,176,163)" stroke-opacity="0.62" stroke-width="2.6"/>
<line x1="271" y1="632.5" x2="351" y2="632.5" stroke="rgb(170,250,240)" stroke-opacity="0.35" stroke-width="6"/><line x1="271" y1="632.5" x2="351" y2="632.5" stroke="rgb(62,176,163)" stroke-opacity="0.62" stroke-width="2.6"/>
<line x1="534" y1="475" x2="661" y2="475" stroke="rgb(170,250,240)" stroke-opacity="0.35" stroke-width="6"/><line x1="534" y1="475" x2="661" y2="475" stroke="rgb(62,176,163)" stroke-opacity="0.62" stroke-width="2.6"/>
<line x1="534" y1="527.5" x2="661" y2="527.5" stroke="rgb(170,250,240)" stroke-opacity="0.35" stroke-width="6"/><line x1="534" y1="527.5" x2="661" y2="527.5" stroke="rgb(62,176,163)" stroke-opacity="0.62" stroke-width="2.6"/>
<line x1="441" y1="709.3" x2="598" y2="709.3" stroke="rgb(170,250,240)" stroke-opacity="0.35" stroke-width="6"/><line x1="441" y1="709.3" x2="598" y2="709.3" stroke="rgb(62,176,163)" stroke-opacity="0.62" stroke-width="2.6"/>
<circle cx="344" cy="365" r="17.3" fill="rgb(17,238,220)" fill-opacity="0.57"/>
<circle cx="518" cy="475.5" r="16.5" fill="rgb(17,238,220)" fill-opacity="0.57"/>
<circle cx="518" cy="528" r="16.5" fill="rgb(17,238,220)" fill-opacity="0.57"/>
<circle cx="359.7" cy="509.6" r="16.5" fill="rgb(17,238,220)" fill-opacity="0.57"/>
<circle cx="325" cy="535" r="17" fill="rgb(17,238,220)" fill-opacity="0.57"/>
<circle cx="346.5" cy="568.5" r="16.5" fill="rgb(17,238,220)" fill-opacity="0.57"/>
<circle cx="367.7" cy="632.5" r="17" fill="rgb(17,238,220)" fill-opacity="0.57"/>
<circle cx="415.5" cy="709" r="16.5" fill="rgb(17,238,220)" fill-opacity="0.57"/>
<rect x="357" y="504" width="4" height="12" fill="#9ff" opacity="0.6"/><rect x="352" y="508" width="6" height="4" fill="#9ff" opacity="0.5"/>
<rect x="318" y="529" width="15" height="5" fill="#8ff5e8" opacity="0.5"/><rect x="318" y="538" width="15" height="5" fill="#8ff5e8" opacity="0.5"/>
<circle cx="525.5" cy="512.5" r="6" fill="#2de0d0" opacity="0.7"/><circle cx="525" cy="545" r="6" fill="#2de0d0" opacity="0.7"/>
<text x="17.4" y="375.6" font-size="22.5" fill="#474747" textLength="111" lengthAdjust="spacingAndGlyphs">Phone clip</text>
<text x="124" y="516" font-size="21.5" fill="#474747" textLength="70" lengthAdjust="spacingAndGlyphs">switch</text>
<text x="7" y="542.5" font-size="21" fill="#474747" textLength="186" lengthAdjust="spacingAndGlyphs">Usb charging port</text>
<text x="38.5" y="577.5" font-size="21" fill="#474747" textLength="142" lengthAdjust="spacingAndGlyphs">Power socket</text>
<text x="19" y="640.5" font-size="22" fill="#474747" textLength="243" lengthAdjust="spacingAndGlyphs">Angle adjustment knob</text>
<text x="672.5" y="471.5" font-size="19.5" fill="#474747" textLength="52.5" lengthAdjust="spacingAndGlyphs">Color</text>
<text x="673" y="489.9" font-size="19.5" fill="#474747" textLength="121" lengthAdjust="spacingAndGlyphs">temperature</text>
<text x="672" y="507.4" font-size="19.5" fill="#474747" textLength="110.6" lengthAdjust="spacingAndGlyphs">adjustment</text>
<text x="672.5" y="541.5" font-size="19.5" fill="#474747" textLength="58" lengthAdjust="spacingAndGlyphs">bright</text>
<text x="672" y="559" font-size="19.5" fill="#474747" textLength="110.6" lengthAdjust="spacingAndGlyphs">adjustment</text>
<text x="631" y="700" font-size="21" fill="#474747" textLength="152" lengthAdjust="spacingAndGlyphs">Tripod interface</text>
<text x="630" y="717" font-size="21" fill="#474747" textLength="50" lengthAdjust="spacingAndGlyphs">knob</text>
</svg></body></html>
